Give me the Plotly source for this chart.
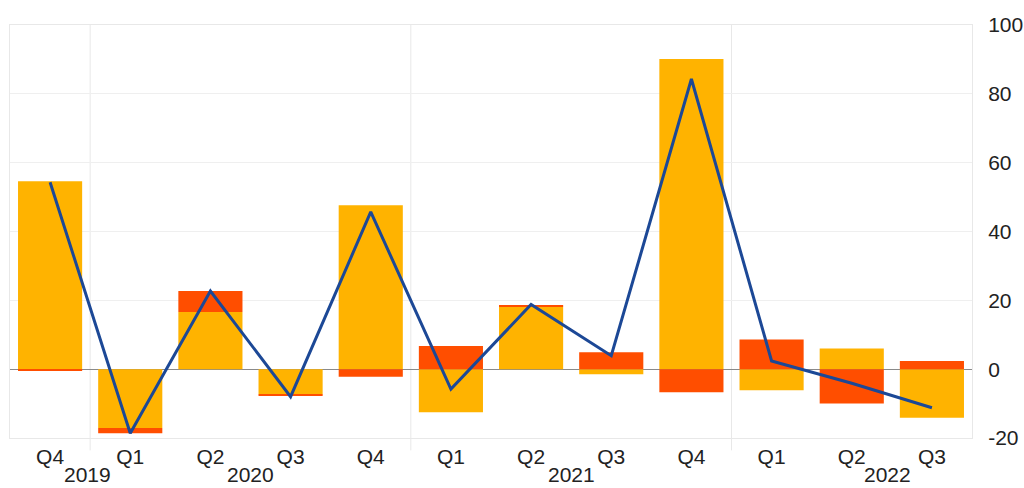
import plotly.graph_objects as go

quarters = ["Q4", "Q1", "Q2", "Q3", "Q4", "Q1", "Q2", "Q3", "Q4", "Q1", "Q2", "Q3"]
years = ["2019", "2020", "2021", "2022"]
year_pos = [0.47, 2.5, 6.5, 10.45]
year_dividers = [0.5, 4.5, 8.5]
y_ticks = [-20, 0, 20, 40, 60, 80, 100]
y_tick_labels = ["-20", "0", "20", "40", "60", "80", "100"]

series_a = [54.6, -17.1, 16.6, -7.3, 47.6, -12.5, 18.1, -1.5, 90.1, -6.1, 6.0, -14.1]
series_b = [-0.5, -1.5, 6.1, -0.5, -2.2, 6.7, 0.5, 4.9, -6.7, 8.6, -10.0, 2.4]
total = [54.3, -18.6, 22.7, -8.0, 45.7, -5.8, 18.8, 3.9, 84.3, 2.4, -4.1, -11.2]

x = list(range(len(quarters)))

YELLOW = "#FFB300"
RED = "#FF4E00"
BLUE = "#1C4896"
FONT = "Liberation Sans, Arial, sans-serif"

fig = go.Figure()
fig.add_trace(go.Bar(x=x, y=series_a, marker_color=YELLOW, marker_line_width=0, width=0.8))
fig.add_trace(go.Bar(x=x, y=series_b, marker_color=RED, marker_line_width=0, width=0.8))
fig.add_trace(go.Scatter(x=x, y=total, mode="lines", line=dict(color=BLUE, width=3)))

for d in year_dividers:
    fig.add_shape(type="line", xref="x", yref="paper", x0=d, x1=d, y0=-0.03, y1=1,
                  line=dict(color="#e8e8e8", width=1), layer="below")

for yr, p in zip(years, year_pos):
    fig.add_annotation(x=p, xref="x", y=-0.088, yref="paper", text=yr, showarrow=False,
                       yanchor="middle", borderpad=0,
                       font=dict(size=21, color="#222", family=FONT))

fig.update_layout(
    width=1024, height=488,
    margin=dict(l=10, r=52, t=25, b=50),
    barmode="relative",
    bargap=0.2,
    showlegend=False,
    plot_bgcolor="white",
    paper_bgcolor="white",
    font=dict(family=FONT, size=21, color="#222"),
    xaxis=dict(
        range=[-0.5, 11.5], tickvals=x, ticktext=quarters, showgrid=False,
        showline=True, linecolor="#e8e8e8", linewidth=1, mirror=True,
        zeroline=False, ticks="", ticklabelstandoff=0, automargin=False,
        tickfont=dict(size=21, color="#222"),
    ),
    yaxis=dict(
        side="right", range=[-20, 100], tickvals=y_ticks, ticktext=y_tick_labels,
        showgrid=True, gridcolor="#efefef", gridwidth=1,
        zeroline=True, zerolinecolor="#8a8a8a", zerolinewidth=1,
        showline=True, linecolor="#e8e8e8", linewidth=1, mirror=True,
        ticks="", ticklabelstandoff=11, automargin=False,
        tickfont=dict(size=21, color="#222"),
    ),
)

fig.write_html(
    "out.html",
    config={"displayModeBar": False},
    post_script="document.body.style.margin='0';document.body.style.overflow='hidden';",
)
